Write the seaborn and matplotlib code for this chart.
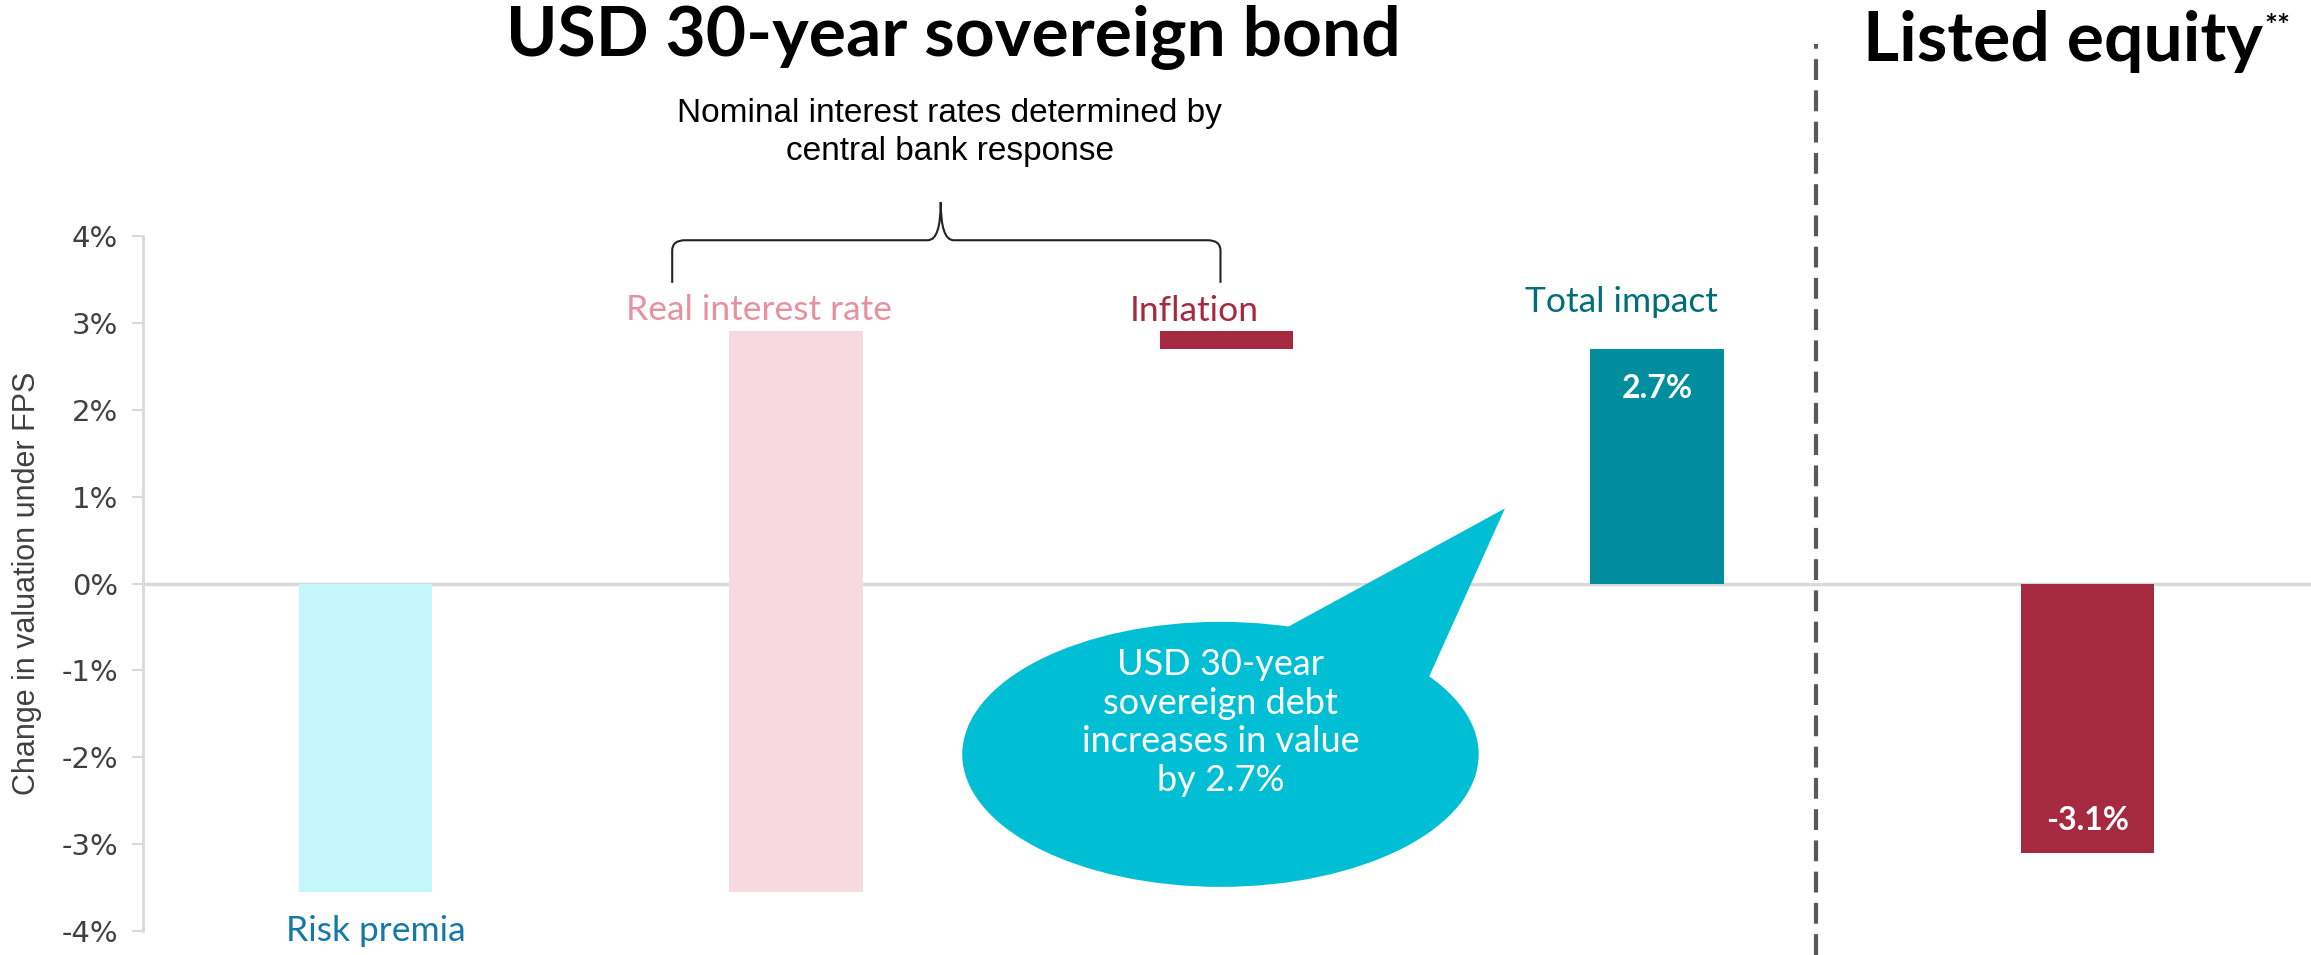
import numpy as np
import pandas as pd
import matplotlib.pyplot as plt
import seaborn as sns
from matplotlib.patches import Ellipse, Polygon, PathPatch
from matplotlib.path import Path

# data (percent change in valuation)
categories = ['Risk premia', 'Real interest rate', 'Inflation', 'Total impact', 'Listed equity']
steps = [-3.55, 6.45, -0.2]          # waterfall steps for the bond
equity_change = -3.1
bar_colors = ['#C4F7FC', '#F6DADF', '#A52A3F', '#008E9E', '#A52A3F']
label_colors = ['#1479A8', '#E8919E', '#A52A3F', '#006E78']

# waterfall: bottoms and heights
ends = np.cumsum(steps)
starts = np.concatenate([[0], ends[:-1]])
total = ends[-1]
bottoms = list(starts) + [0, 0]
heights = list(steps) + [total, equity_change]

df = pd.DataFrame({'cat': categories, 'height': heights, 'bottom': bottoms})

sns.set_style('white')
plt.rcParams['font.family'] = ['Lato', 'DejaVu Sans']
narrow = ['Liberation Sans Narrow', 'Liberation Sans', 'DejaVu Sans']

fig = plt.figure(figsize=(23.11, 9.55), dpi=100)
ax = fig.add_axes([0.062, 0.025, 0.938, 0.728])

ax.axhline(0, color='#D9D9D9', lw=2.5, zorder=0)
sns.barplot(data=df, x='cat', y='height', bottom=df['bottom'].values, color='#999999',
            width=0.31, ax=ax, zorder=2)
for p, c in zip(ax.patches, bar_colors):
    p.set_facecolor(c)
    p.set_edgecolor('none')

ax.set_xlim(-0.517, 4.52)
ax.set_ylim(-4, 4)
ax.set_yticks(range(-4, 5))
ax.set_yticklabels([f'{v}%' for v in range(-4, 5)], family=['DejaVu Sans'], fontsize=21, color='#404040')
ax.set_xticks([])
ax.set_xlabel('')
ax.set_ylabel('Change in valuation under FPS', family=narrow, fontsize=22, color='#404040', labelpad=14)
ax.tick_params(axis='y', length=8, width=1.5, color='#D9D9D9', left=True, pad=10)
for s in ['top', 'right', 'bottom']:
    ax.spines[s].set_visible(False)
ax.spines['left'].set_color('#D9D9D9')
ax.spines['left'].set_linewidth(2)

# category labels
ax.text(0.024, -4.0, categories[0], color=label_colors[0], fontsize=25.5, ha='center', va='center', clip_on=False)
ax.text(0.914, 3.15, categories[1], color=label_colors[1], fontsize=25.5, ha='center', va='center')
ax.text(1.925, 3.14, categories[2], color=label_colors[2], fontsize=25.5, ha='center', va='center')
ax.text(2.918, 3.24, categories[3], color=label_colors[3], fontsize=25.5, ha='center', va='center')

# value labels
ax.text(3, 2.24, f'{total:.1f}%', color='white', fontsize=23, fontweight='bold', ha='center', va='center')
ax.text(4, -2.73, f'{equity_change:.1f}%', color='white', fontsize=23, fontweight='bold', ha='center', va='center')

# separator
ax.axvline(3.37, ymin=-0.035, ymax=1.276, clip_on=False, color='#595959', lw=3, dashes=(5, 2.5))

# brace over real interest rate + inflation
x0, xm, x1 = 0.712, 1.336, 1.986
yb, yh, yp = 3.46, 3.95, 4.39
dx, dy = 0.03, 0.12
verts = [(x0, yb), (x0, yh - dy), (x0, yh), (x0 + dx, yh),
         (xm - dx, yh), (xm, yh), (xm, yp),
         (xm, yh), (xm + dx, yh),
         (x1 - dx, yh), (x1, yh), (x1, yh - dy), (x1, yb)]
codes = [Path.MOVETO, Path.LINETO, Path.CURVE3, Path.CURVE3,
         Path.LINETO, Path.CURVE3, Path.CURVE3,
         Path.CURVE3, Path.CURVE3,
         Path.LINETO, Path.CURVE3, Path.CURVE3, Path.LINETO]
ax.add_patch(PathPatch(Path(verts, codes), fill=False, lw=1.5, color='#222222', clip_on=False))

# speech bubble
bub = '#00BFD4'
ax.add_patch(Ellipse((1.986, -1.966), 1.20, 3.05, color=bub, zorder=3, lw=0))
ax.add_patch(Polygon([(2.05, -0.75), (2.647, 0.864), (2.45, -1.3)], closed=True, color=bub, zorder=3, lw=0))
ax.text(1.986, -1.6, 'USD 30-year\nsovereign debt\nincreases in value\nby 2.7%', color='white',
        fontsize=26, ha='center', va='center', linespacing=1.2, zorder=4)

# titles
fig.text(0.4126, 0.961, 'USD 30-year sovereign bond', fontsize=50, fontweight='bold', color='black',
         ha='center', va='center')
fig.text(0.979, 0.957, 'Listed equity', fontsize=50, fontweight='bold', color='black', ha='right', va='center')
fig.text(0.98, 0.972, '**', fontsize=22, fontweight='bold', color='black', ha='left', va='center')
fig.text(0.411, 0.861, 'Nominal interest rates determined by\ncentral bank response', family=narrow,
         fontsize=24, color='black', ha='center', va='center', linespacing=1.3)

plt.savefig('out.png', dpi=100)
